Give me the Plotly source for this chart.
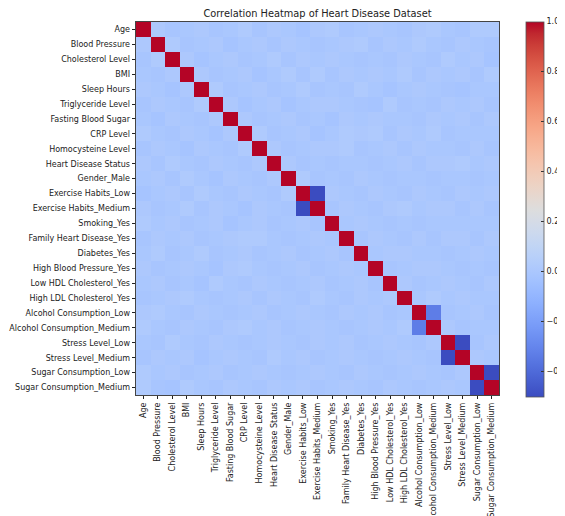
import plotly.graph_objects as go

labels = [
    "Age", "Blood Pressure", "Cholesterol Level", "BMI", "Sleep Hours",
    "Triglyceride Level", "Fasting Blood Sugar", "CRP Level", "Homocysteine Level",
    "Heart Disease Status", "Gender_Male", "Exercise Habits_Low", "Exercise Habits_Medium",
    "Smoking_Yes", "Family Heart Disease_Yes", "Diabetes_Yes", "High Blood Pressure_Yes",
    "Low HDL Cholesterol_Yes", "High LDL Cholesterol_Yes", "Alcohol Consumption_Low",
    "Alcohol Consumption_Medium", "Stress Level_Low", "Stress Level_Medium",
    "Sugar Consumption_Low", "Sugar Consumption_Medium",
]

# lower triangle of the correlation matrix (row i holds columns 0..i-1)
lower = [
    [0.01],
    [-0.01, 0.02],
    [0.00, -0.01, 0.01],
    [0.01, 0.00, -0.02, 0.01],
    [-0.01, 0.01, 0.00, -0.01, 0.02],
    [0.00, -0.02, 0.01, 0.00, -0.01, 0.01],
    [0.02, 0.00, -0.01, 0.01, 0.00, -0.02, 0.01],
    [-0.01, 0.01, 0.00, -0.02, 0.01, 0.00, -0.01, 0.02],
    [0.01, -0.01, 0.02, 0.00, -0.01, 0.01, 0.00, -0.01, 0.01],
    [0.00, 0.01, -0.01, 0.02, 0.00, -0.02, 0.01, 0.00, -0.01, 0.01],
    [-0.02, 0.00, 0.01, -0.01, 0.02, 0.00, -0.01, 0.01, 0.00, -0.01, 0.02],
    [0.01, -0.01, 0.00, 0.02, -0.01, 0.01, 0.00, -0.02, 0.01, 0.00, -0.01, -0.50],
    [0.02, 0.00, 0.01, -0.01, 0.00, 0.01, -0.02, 0.00, 0.01, -0.01, 0.00, 0.01, -0.01],
    [-0.01, 0.01, 0.00, 0.01, -0.01, 0.00, 0.01, 0.02, 0.02, 0.00, -0.01, 0.00, 0.01, 0.00],
    [0.00, 0.02, -0.01, 0.00, 0.02, -0.01, 0.00, 0.01, -0.01, 0.00, 0.01, -0.01, 0.00, 0.01, -0.01],
    [0.01, -0.01, 0.00, 0.01, 0.00, -0.02, 0.01, 0.02, 0.00, -0.01, 0.00, 0.01, -0.01, 0.00, 0.01, 0.00],
    [0.00, 0.01, -0.01, 0.00, -0.02, 0.02, 0.00, -0.01, 0.01, 0.00, -0.01, 0.00, 0.01, -0.01, 0.00, 0.01, -0.01],
    [-0.01, 0.00, 0.01, 0.02, 0.00, -0.01, 0.00, 0.01, -0.01, 0.01, 0.00, -0.01, 0.02, 0.00, -0.01, 0.01, 0.00, 0.01],
    [0.01, 0.02, 0.00, -0.01, 0.01, 0.00, -0.01, 0.00, 0.01, -0.01, 0.00, 0.01, 0.00, -0.01, 0.01, 0.00, 0.01, -0.01, 0.00],
    [0.02, 0.00, -0.01, 0.01, 0.00, -0.01, 0.01, 0.02, 0.00, 0.01, -0.01, 0.00, 0.01, 0.00, -0.01, 0.00, 0.01, 0.00, 0.02, -0.33],
    [0.00, -0.01, 0.02, 0.00, -0.01, 0.01, 0.00, -0.01, 0.00, 0.01, 0.00, -0.01, 0.01, 0.00, 0.01, -0.01, 0.00, 0.01, 0.00, -0.01, 0.01],
    [-0.01, 0.01, 0.00, 0.01, -0.02, 0.00, 0.01, 0.00, -0.01, 0.02, 0.00, 0.01, -0.01, 0.00, 0.01, 0.00, -0.01, 0.00, 0.01, 0.00, -0.01, -0.50],
    [0.02, 0.00, 0.01, -0.01, 0.00, 0.01, -0.01, 0.00, 0.01, 0.00, -0.01, 0.00, 0.01, 0.00, -0.01, 0.01, 0.00, -0.01, 0.00, 0.01, 0.00, -0.01, 0.01],
    [0.02, -0.01, -0.02, 0.02, 0.00, -0.01, 0.01, 0.00, -0.01, 0.01, 0.00, 0.01, -0.01, 0.00, 0.01, 0.00, -0.01, 0.01, 0.00, -0.01, 0.00, 0.01, 0.00, -0.50],
]

cbar_tickvals = [1.0, 0.8, 0.6, 0.4, 0.2, 0.0, -0.2, -0.4]
cbar_ticktext = ["1.0", "0.8", "0.6", "0.4", "0.2", "0.0", "\u22120.2", "\u22120.4"]

n = len(labels)
z = [[1.0 if i == j else 0.0 for j in range(n)] for i in range(n)]
for i, row in enumerate(lower, start=1):
    for j, v in enumerate(row[:i]):
        z[i][j] = v
        z[j][i] = v

# matplotlib "coolwarm" (Moreland diverging map)
cw = [
    (59, 76, 192), (68, 90, 204), (77, 104, 215), (87, 117, 225), (98, 130, 234),
    (108, 142, 241), (119, 154, 247), (130, 165, 251), (141, 176, 254), (152, 185, 255),
    (163, 194, 255), (174, 201, 253), (184, 208, 249), (194, 213, 244), (204, 217, 238),
    (213, 219, 230), (221, 221, 221), (229, 216, 209), (236, 211, 197), (241, 204, 185),
    (245, 196, 173), (247, 187, 160), (247, 177, 148), (247, 166, 135), (244, 154, 123),
    (241, 141, 111), (236, 127, 99), (229, 112, 88), (222, 96, 77), (213, 80, 66),
    (203, 62, 56), (192, 40, 47), (180, 4, 38),
]
colorscale = [[k / (len(cw) - 1), "rgb(%d,%d,%d)" % c] for k, c in enumerate(cw)]

# the page body adds an 8px margin, so the figure is laid out 8px up/left
OFF = 8
W, H = 565 - OFF, 516 - OFF
L, R, T, B = 136 - OFF, 499 - OFF, 22 - OFF, 395 - OFF
pw, ph = R - L, B - T
font = "DejaVu Sans, Arial, sans-serif"

fig = go.Figure(go.Heatmap(
    z=z, x=labels, y=labels, colorscale=colorscale,
    xgap=0, ygap=0,
    colorbar=dict(
        x=(526 - OFF - L) / pw, xanchor="left", xpad=0,
        y=1 + (T - (21.5 - OFF)) / ph, yanchor="top", ypad=0,
        len=374.5, lenmode="pixels", thickness=17.5, thicknessmode="pixels",
        outlinewidth=0.8, outlinecolor="#555",
        tickvals=cbar_tickvals, ticktext=cbar_ticktext,
        ticks="inside", ticklen=3, tickwidth=0.8, tickcolor="#333",
        tickfont=dict(family=font, size=8, color="#222"),
    ),
))

fig.update_layout(
    width=W, height=H,
    margin=dict(l=L, r=W - R, t=T, b=H - B, pad=0, autoexpand=False),
    paper_bgcolor="white", plot_bgcolor="white",
    title=dict(text="Correlation Heatmap of Heart Disease Dataset",
               x=(L + R) / 2 / W, xanchor="center", y=1 - (13.5 - OFF) / H, yanchor="middle",
               font=dict(family=font, size=9.8, color="#222")),
    xaxis=dict(tickangle=-90, ticks="outside", ticklen=3.5, tickwidth=0.8, tickcolor="#222",
               tickfont=dict(family=font, size=8, color="#222"),
               showline=True, mirror=True, linecolor="#444", linewidth=0.8,
               showgrid=False, zeroline=False, automargin=False),
    yaxis=dict(autorange="reversed", ticks="outside", ticklen=3.5, tickwidth=0.8, tickcolor="#222",
               tickfont=dict(family=font, size=8, color="#222"),
               showline=True, mirror=True, linecolor="#444", linewidth=0.8,
               showgrid=False, zeroline=False, automargin=False),
)

fig.write_html("out.html")
